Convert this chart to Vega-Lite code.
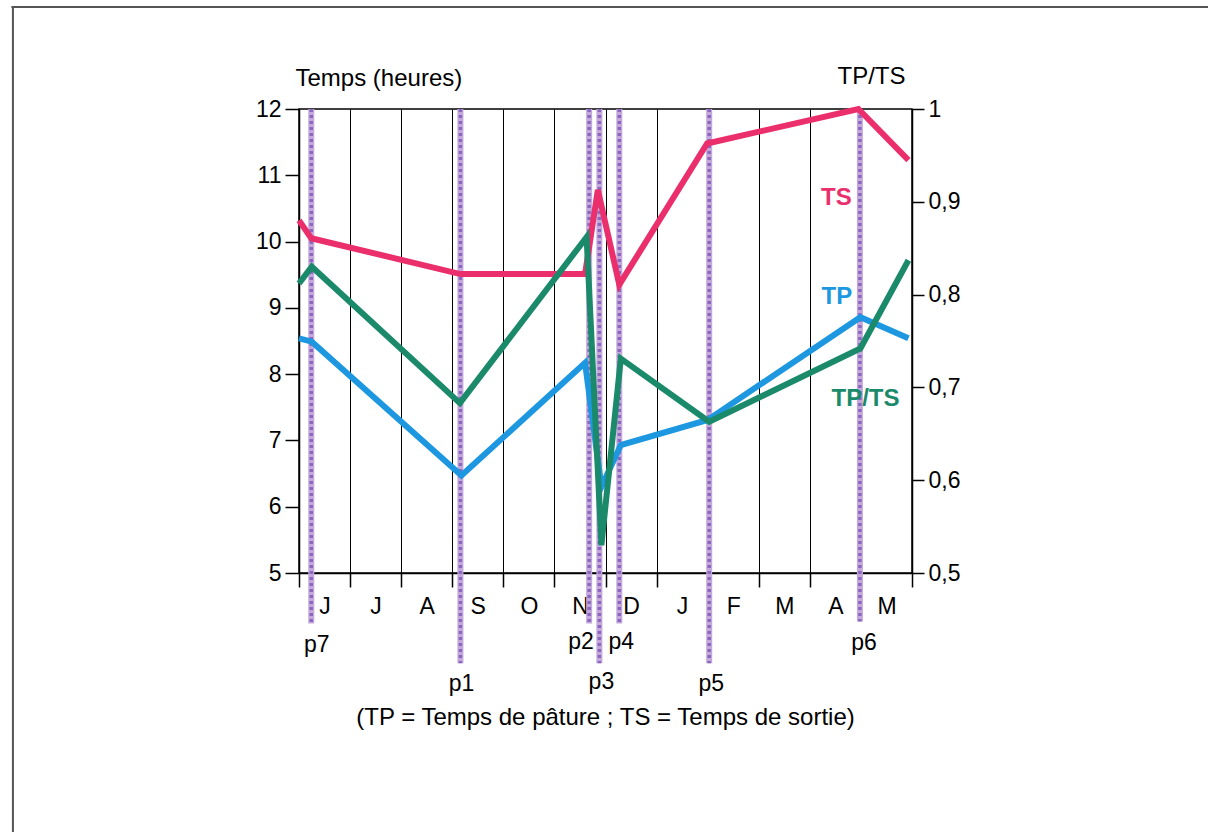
{
  "$schema": "https://vega.github.io/schema/vega-lite/v6.json",
  "width": 613,
  "height": 464,
  "autosize": {"type": "none"},
  "padding": {"left": 299, "top": 109, "right": 296, "bottom": 259},
  "background": "white",
  "config": {
    "font": "Liberation Sans",
    "view": {"stroke": "black", "strokeWidth": 1.5},
    "axis": {
      "labelFont": "Liberation Sans",
      "titleFont": "Liberation Sans",
      "labelColor": "black",
      "titleColor": "black",
      "domainColor": "black",
      "tickColor": "black",
      "labelFontSize": 23,
      "titleFontSize": 24,
      "titleFontWeight": "normal",
      "domainWidth": 1.5,
      "tickWidth": 1.5,
      "grid": false
    },
    "text": {"font": "Liberation Sans"}
  },
  "datasets": {
    "hours": [
      {"series": "TS", "x": 0, "value": 10.32},
      {"series": "TS", "x": 0.24, "value": 10.05},
      {"series": "TS", "x": 3.16, "value": 9.51},
      {"series": "TS", "x": 5.6, "value": 9.51},
      {"series": "TS", "x": 5.85, "value": 10.78},
      {"series": "TS", "x": 6.27, "value": 9.35},
      {"series": "TS", "x": 7.99, "value": 11.48},
      {"series": "TS", "x": 10.95, "value": 12.0},
      {"series": "TS", "x": 11.93, "value": 11.23},
      {"series": "TP", "x": 0, "value": 8.54},
      {"series": "TP", "x": 0.25, "value": 8.49},
      {"series": "TP", "x": 3.18, "value": 6.47},
      {"series": "TP", "x": 5.6, "value": 8.17},
      {"series": "TP", "x": 5.92, "value": 6.3},
      {"series": "TP", "x": 6.3, "value": 6.93},
      {"series": "TP", "x": 8.0, "value": 7.31},
      {"series": "TP", "x": 10.99, "value": 8.86},
      {"series": "TP", "x": 11.93, "value": 8.54}
    ],
    "ratio": [
      {"x": 0, "ratio": 0.812},
      {"x": 0.25, "ratio": 0.83},
      {"x": 3.15, "ratio": 0.683},
      {"x": 5.63, "ratio": 0.862},
      {"x": 5.92, "ratio": 0.53},
      {"x": 6.3, "ratio": 0.731},
      {"x": 8.03, "ratio": 0.663},
      {"x": 10.99, "ratio": 0.742},
      {"x": 11.93, "ratio": 0.837}
    ],
    "periods": [
      {"p": "p7", "x": 0.24, "top": 12, "bottom": 4.24, "lx": 0.35, "ly": 3.91},
      {"p": "p1", "x": 3.16, "top": 12, "bottom": 3.64, "lx": 3.18, "ly": 3.33},
      {"p": "p2", "x": 5.68, "top": 12, "bottom": 4.24, "lx": 5.52, "ly": 3.96},
      {"p": "p3", "x": 5.88, "top": 12, "bottom": 3.64, "lx": 5.92, "ly": 3.36},
      {"p": "p4", "x": 6.27, "top": 12, "bottom": 4.24, "lx": 6.31, "ly": 3.96},
      {"p": "p5", "x": 8.03, "top": 12, "bottom": 3.64, "lx": 8.07, "ly": 3.33},
      {"p": "p6", "x": 10.98, "top": 12, "bottom": 4.27, "lx": 11.06, "ly": 3.94}
    ],
    "serieslabels": [
      {"series": "TS", "x": 10.52, "y": 10.65, "text": "TS"},
      {"series": "TP", "x": 10.53, "y": 9.16, "text": "TP"},
      {"series": "TP/TS", "x": 11.09, "y": 7.62, "text": "TP/TS"}
    ],
    "caption": [
      {"x": 6.0, "y": 2.81, "text": "(TP = Temps de pâture ; TS = Temps de sortie)"}
    ]
  },
  "layer": [
    {
      "layer": [
        {
          "data": {"name": "hours"},
          "mark": {"type": "line", "strokeWidth": 0, "opacity": 0},
          "encoding": {
            "x": {
              "field": "x",
              "type": "quantitative",
              "title": null,
              "scale": {"domain": [0, 12], "nice": false, "zero": false},
              "axis": {
                "values": [0, 1, 2, 3, 4, 5, 6, 7, 8, 9, 10, 11, 12],
                "labelExpr": "['J','J','A','S','O','N','D','J','F','M','A','M',''][round(datum.value)]",
                "labelOffset": 25.54,
                "labelFlush": false,
                "labelOverlap": false,
                "tickSize": 14,
                "labelPadding": 8,
                "grid": true,
                "gridColor": "black",
                "gridWidth": 1,
                "gridOpacity": 1
              }
            },
            "y": {
              "field": "value",
              "type": "quantitative",
              "title": "Temps (heures)",
              "scale": {"domain": [5, 12], "nice": false, "zero": false},
              "axis": {
                "values": [5, 6, 7, 8, 9, 10, 11, 12],
                "format": "d",
                "tickSize": 14,
                "labelPadding": 4,
                "titleAngle": 0,
                "titleAlign": "left",
                "titleBaseline": "alphabetic",
                "titleX": -4,
                "titleY": -24
              }
            },
            "detail": {"field": "series", "type": "nominal"}
          }
        },
        {
          "data": {"name": "periods"},
          "mark": {"type": "rule", "color": "#c4a8dc", "strokeWidth": 6},
          "encoding": {
            "x": {"field": "x", "type": "quantitative"},
            "y": {"field": "top", "type": "quantitative"},
            "y2": {"field": "bottom"}
          }
        },
        {
          "data": {"name": "periods"},
          "mark": {"type": "rule", "color": "#8a68bd", "strokeWidth": 3.5, "strokeDash": [3, 3]},
          "encoding": {
            "x": {"field": "x", "type": "quantitative"},
            "y": {"field": "top", "type": "quantitative"},
            "y2": {"field": "bottom"}
          }
        },
        {
          "data": {"name": "hours"},
          "mark": {"type": "line", "strokeWidth": 6},
          "encoding": {
            "x": {"field": "x", "type": "quantitative"},
            "y": {"field": "value", "type": "quantitative"},
            "color": {
              "field": "series",
              "type": "nominal",
              "scale": {"domain": ["TS", "TP", "TP/TS"], "range": ["#ea2f6c", "#1d98e0", "#1b8a6b"]},
              "legend": null
            }
          }
        },
        {
          "data": {"name": "serieslabels"},
          "mark": {"type": "text", "fontSize": 24, "fontWeight": "bold", "align": "center", "baseline": "middle"},
          "encoding": {
            "x": {"field": "x", "type": "quantitative"},
            "y": {"field": "y", "type": "quantitative"},
            "text": {"field": "text", "type": "nominal"},
            "color": {"field": "series", "type": "nominal", "legend": null}
          }
        },
        {
          "data": {"name": "periods"},
          "mark": {"type": "text", "fontSize": 23, "align": "center", "baseline": "middle", "color": "black"},
          "encoding": {
            "x": {"field": "lx", "type": "quantitative"},
            "y": {"field": "ly", "type": "quantitative"},
            "text": {"field": "p", "type": "nominal"}
          }
        },
        {
          "data": {"name": "caption"},
          "mark": {"type": "text", "fontSize": 24, "align": "center", "baseline": "middle", "color": "black"},
          "encoding": {
            "x": {"field": "x", "type": "quantitative"},
            "y": {"field": "y", "type": "quantitative"},
            "text": {"field": "text", "type": "nominal"}
          }
        },
        {
          "data": {"values": [{}]},
          "mark": {"type": "rule", "color": "#555555", "strokeWidth": 2},
          "encoding": {
            "x": {"datum": -5.63, "type": "quantitative"},
            "x2": {"datum": 17.8},
            "y": {"datum": 13.54, "type": "quantitative"}
          }
        },
        {
          "data": {"values": [{}]},
          "mark": {"type": "rule", "color": "#555555", "strokeWidth": 2},
          "encoding": {
            "x": {"datum": -5.6, "type": "quantitative"},
            "y": {"datum": 13.54, "type": "quantitative"},
            "y2": {"datum": 1.0}
          }
        }
      ]
    },
    {
      "data": {"name": "ratio"},
      "mark": {"type": "line", "color": "#1b8a6b", "strokeWidth": 6},
      "encoding": {
        "x": {"field": "x", "type": "quantitative"},
        "y": {
          "field": "ratio",
          "type": "quantitative",
          "title": "TP/TS",
          "scale": {"domain": [0.5, 1], "nice": false, "zero": false},
          "axis": {
            "orient": "right",
            "values": [0.5, 0.6, 0.7, 0.8, 0.9, 1],
            "labelExpr": "datum.value == 1 ? '1' : replace(format(datum.value, '.1f'), '.', ',')",
            "tickSize": 12,
            "labelPadding": 4,
            "titleAngle": 0,
            "titleAlign": "left",
            "titleBaseline": "alphabetic",
            "titleX": -75,
            "titleY": -26
          }
        }
      }
    }
  ],
  "resolve": {"scale": {"y": "independent"}}
}
